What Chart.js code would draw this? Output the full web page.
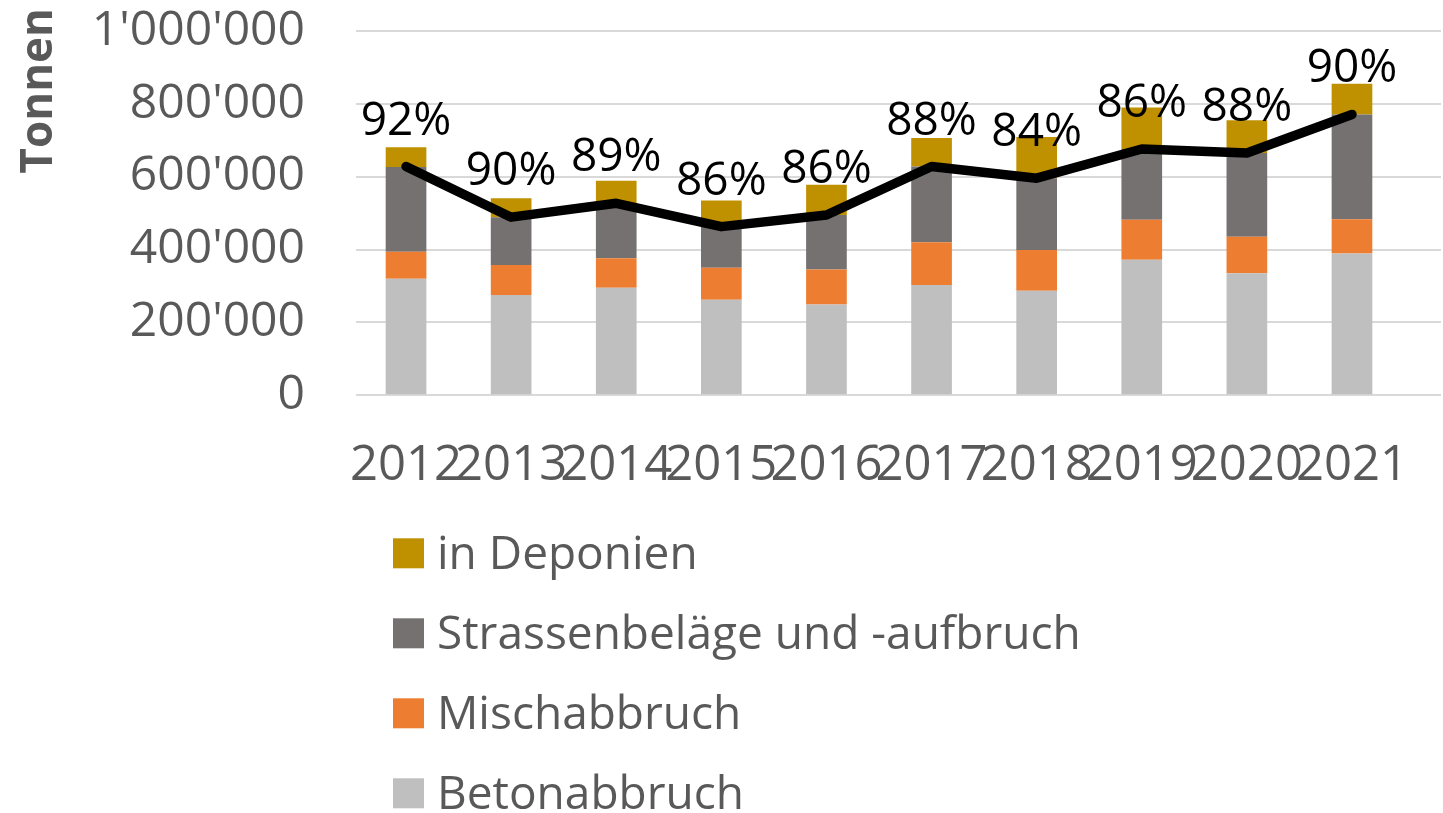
<!DOCTYPE html>
<html>
<head>
<meta charset="utf-8">
<script src="https://cdn.jsdelivr.net/npm/chart.js@4"></script>
<style>
  html, body { margin: 0; padding: 0; background: #fff; }
  #wrap { width: 1443px; height: 813px; position: relative; }
</style>
</head>
<body>
<div id="wrap"><canvas id="myChart"></canvas></div>
<script>
// Werte in Tonnen
const years = ['2012', '2013', '2014', '2015', '2016', '2017', '2018', '2019', '2020', '2021'];
const betonabbruch = [320000, 275000, 295000, 262000, 249000, 303000, 287000, 372000, 335000, 389000];
const mischabbruch = [74000, 83000, 81000, 88000, 96000, 117000, 112000, 110000, 100000, 94000];
const strassenbelaege = [233000, 131000, 151000, 113000, 150000, 208000, 197000, 194000, 230000, 288000];
const deponien = [54000, 52000, 62000, 72000, 83000, 78000, 113000, 114000, 90000, 84000];
const verwertet = [628000, 489000, 527000, 463000, 495000, 628000, 596000, 676000, 665000, 771000];
const quoten = ['92%', '90%', '89%', '86%', '86%', '88%', '84%', '86%', '88%', '90%'];
const yTicks = [0, 200000, 400000, 600000, 800000, 1000000];

const FONT = '"Open Sans", "Noto Sans", sans-serif';
const GREY_TEXT = '#595959';

const toPoints = arr => arr.map((v, i) => ({ x: i, y: v }));
const fmt = v => String(v).replace(/\B(?=(\d{3})+(?!\d))/g, "'");

// Prozent-Labels über der Linie
const quoteLabels = {
    id: 'quoteLabels',
    afterDatasetsDraw(chart) {
        const idx = chart.data.datasets.findIndex(d => d.type === 'line');
        const meta = chart.getDatasetMeta(idx);
        const ctx = chart.ctx;
        ctx.save();
        ctx.font = '46px ' + FONT;
        ctx.fillStyle = '#000';
        ctx.textAlign = 'center';
        ctx.textBaseline = 'alphabetic';
        meta.data.forEach((pt, i) => {
            ctx.fillText(quoten[i], pt.x, pt.y - 32);
        });
        ctx.restore();
    }
};

// Legende untereinander + Achsentitel
const sideText = {
    id: 'sideText',
    afterDraw(chart) {
        const ctx = chart.ctx;
        const area = chart.chartArea;
        ctx.save();
        const bars = chart.data.datasets.filter(d => d.type !== 'line').slice().reverse();
        ctx.font = '46px ' + FONT;
        ctx.textAlign = 'left';
        ctx.textBaseline = 'alphabetic';
        bars.forEach((ds, i) => {
            const cy = area.bottom + 158 + i * 80;
            ctx.fillStyle = ds.backgroundColor;
            ctx.fillRect(area.left + 37, cy - 15, 31, 30);
            ctx.fillStyle = GREY_TEXT;
            ctx.fillText(ds.label, area.left + 81, cy + 16);
        });

        ctx.translate(52, 8);
        ctx.rotate(-Math.PI / 2);
        ctx.font = 'bold 44px ' + FONT;
        ctx.textAlign = 'right';
        ctx.fillStyle = GREY_TEXT;
        ctx.fillText('Tonnen', 0, 0);
        ctx.restore();
    }
};

const barCommon = {
    type: 'bar',
    stack: 'mengen',
    categoryPercentage: 1,
    barPercentage: 0.387,
    borderWidth: 0
};

const ctx = document.getElementById('myChart').getContext('2d');
window.myChart = new Chart(ctx, {
    data: {
        datasets: [
            { ...barCommon, label: 'Betonabbruch', data: toPoints(betonabbruch), backgroundColor: '#BFBFBF' },
            { ...barCommon, label: 'Mischabbruch', data: toPoints(mischabbruch), backgroundColor: '#ED7D31' },
            { ...barCommon, label: 'Strassenbeläge und -aufbruch', data: toPoints(strassenbelaege), backgroundColor: '#767171' },
            { ...barCommon, label: 'in Deponien', data: toPoints(deponien), backgroundColor: '#BF9000' },
            {
                type: 'line',
                label: 'Verwertungsquote',
                stack: 'quote',
                order: -1,
                data: toPoints(verwertet),
                borderColor: '#000000',
                borderWidth: 9.5,
                borderCapStyle: 'round',
                borderJoinStyle: 'round',
                pointRadius: 0,
                tension: 0,
                fill: false
            }
        ]
    },
    options: {
        responsive: true,
        maintainAspectRatio: false,
        animation: false,
        layout: { padding: { top: 31, right: 2, bottom: 0, left: 0 } },
        plugins: {
            legend: { display: false },
            tooltip: { enabled: false }
        },
        scales: {
            x: {
                type: 'linear',
                stacked: true,
                offset: false,
                bounds: 'data',
                min: -0.476,
                max: 9.847,
                grid: { display: false, drawTicks: false, offset: false },
                border: { display: false },
                afterBuildTicks: scale => { scale.ticks = years.map((y, i) => ({ value: i })); },
                ticks: {
                    autoSkip: false,
                    maxRotation: 0,
                    padding: 41,
                    color: GREY_TEXT,
                    font: { family: FONT, size: 49 },
                    callback: v => years[v]
                },
                afterFit: scale => {
                    scale.height = 417.7;
                    scale.paddingLeft = 0;
                    scale.paddingRight = 0;
                }
            },
            y: {
                stacked: true,
                min: 0,
                max: 1000000,
                grid: { color: '#D9D9D9', lineWidth: 2, drawTicks: false },
                border: { display: false },
                afterBuildTicks: scale => { scale.ticks = yTicks.map(v => ({ value: v })); },
                ticks: {
                    padding: 51,
                    color: GREY_TEXT,
                    font: { family: FONT, size: 48 },
                    callback: v => fmt(v)
                },
                afterFit: scale => {
                    scale.width = 356;
                    scale.paddingTop = 0;
                    scale.paddingBottom = 0;
                }
            }
        }
    },
    plugins: [quoteLabels, sideText]
});
</script>
</body>
</html>
